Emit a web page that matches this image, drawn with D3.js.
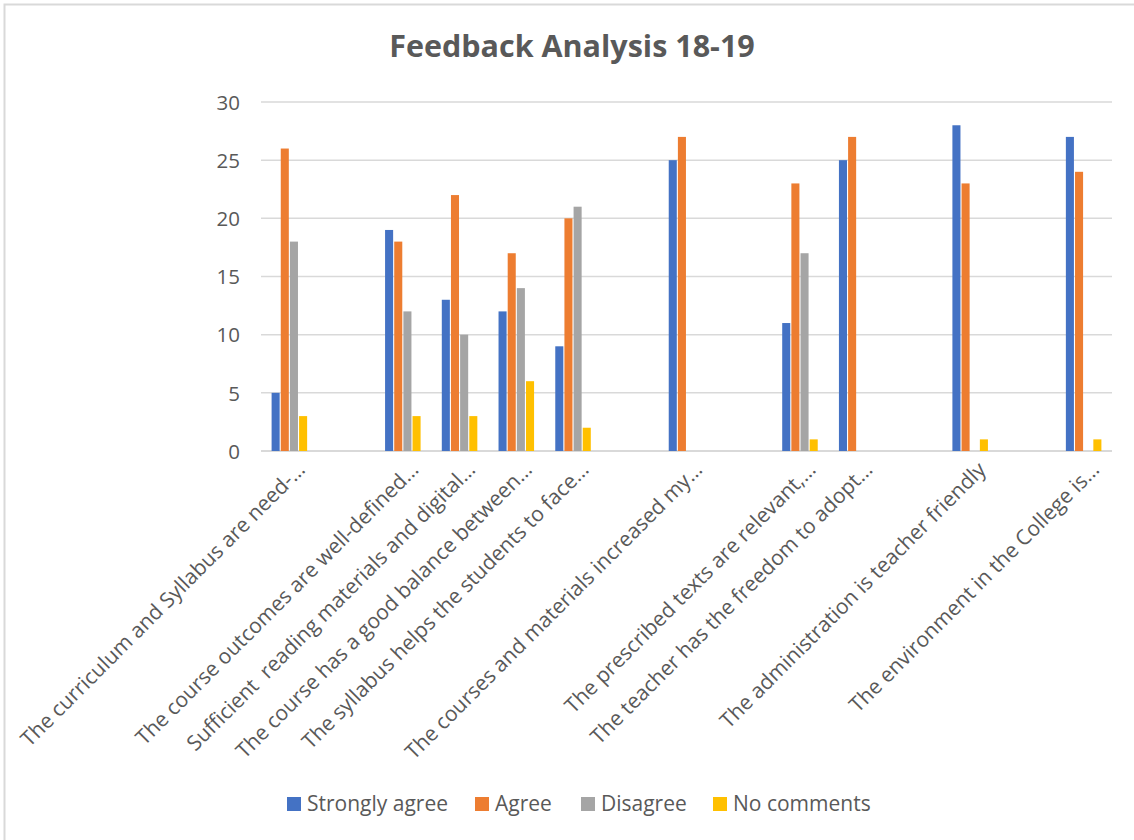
<!DOCTYPE html>
<meta charset="utf-8">
<style>
  body { margin: 0; background: #fff; }
  text { font-family: "Open Sans", sans-serif; fill: #595959; }
</style>
<svg id="chart"></svg>
<script src="https://d3js.org/d3.v7.min.js"></script>
<script>

// categories (empty strings are blank rows in the source sheet)
var categories = [
  "The curriculum and Syllabus are need-…",
  "",
  "The course outcomes are well-defined…",
  "Sufficient  reading materials and digital…",
  "The course has a good balance between…",
  "The syllabus helps the students to face…",
  "",
  "The courses and materials increased my…",
  "",
  "The prescribed texts are relevant,…",
  "The teacher has the freedom to adopt…",
  "",
  "The administration is teacher friendly",
  "",
  "The environment in the College is…"
]

var seriesNames = ["Strongly agree", "Agree", "Disagree", "No comments"]

var stronglyAgree = [5, null, 19, 13, 12, 9, null, 25, null, 11, 25, null, 28, null, 27]
var agree         = [26, null, 18, 22, 17, 20, null, 27, null, 23, 27, null, 23, null, 24]
var disagree      = [18, null, 12, 10, 14, 21, null, 0, null, 17, 0, null, 0, null, 0]
var noComments    = [3, null, 3, 3, 6, 2, null, 0, null, 1, 0, null, 1, null, 1]

var yTicks = [0, 5, 10, 15, 20, 25, 30]

var colors = ["#4472C4", "#ED7D31", "#A5A5A5", "#FFC000"]

var width = 1134
var height = 840
var margin = {top: 102, right: 22, bottom: 389, left: 261}

var svg = d3.select("#chart")
    .attr("width", width)
    .attr("height", height)

// chart frame (right/bottom edges fall outside the picture)
svg.append("rect")
    .attr("x", 4.5)
    .attr("y", 4.5)
    .attr("width", 1200)
    .attr("height", 900)
    .attr("fill", "none")
    .attr("stroke", "#d9d9d9")
    .attr("stroke-width", 2)

svg.append("text")
    .attr("x", 572)
    .attr("y", 57)
    .attr("text-anchor", "middle")
    .style("font-size", "30.5px")
    .style("font-weight", "bold")
    .text("Feedback Analysis 18-19")

var x0 = d3.scaleBand()
    .domain(d3.range(categories.length))
    .range([margin.left, width - margin.right])
    .paddingInner(0.335)
    .paddingOuter(0.1675)

var x1 = d3.scaleBand()
    .domain(d3.range(seriesNames.length))
    .range([0, x0.bandwidth()])
    .padding(0.12)

var y = d3.scaleLinear()
    .domain([0, 30])
    .range([height - margin.bottom, margin.top])

// gridlines
svg.append("g")
  .selectAll("line")
  .data(yTicks)
  .enter().append("line")
    .attr("x1", margin.left)
    .attr("x2", width - margin.right)
    .attr("y1", function(d) { return y(d) })
    .attr("y2", function(d) { return y(d) })
    .attr("stroke", "#d9d9d9")
    .attr("stroke-width", function(d) { return d === 0 ? 2 : 1.5 })

// y axis labels
var yAxis = svg.append("g")
    .attr("transform", "translate(" + (margin.left - 21) + ",0)")
    .call(d3.axisLeft(y).tickValues(yTicks).tickSize(0).tickPadding(0))
yAxis.select(".domain").remove()
yAxis.selectAll("text")
    .style("font-size", "20.5px")
    .style("fill", "#595959")
    .attr("dy", "0.35em")

// bars
var rows = categories.map(function(c, i) {
  return [stronglyAgree[i], agree[i], disagree[i], noComments[i]]
})

var groups = svg.append("g")
  .selectAll("g")
  .data(rows)
  .enter().append("g")
    .attr("transform", function(d, i) { return "translate(" + x0(i) + ",0)" })

groups.selectAll("rect")
  .data(function(d) { return d.map(function(v, k) { return {k: k, v: v} }).filter(function(o) { return o.v }) })
  .enter().append("rect")
    .attr("x", function(d) { return x1(d.k) })
    .attr("width", x1.bandwidth())
    .attr("y", function(d) { return y(d.v) })
    .attr("height", function(d) { return y(0) - y(d.v) })
    .attr("fill", function(d) { return colors[d.k] })

// category labels, rotated
svg.append("g")
  .selectAll("text")
  .data(categories)
  .enter().append("text")
    .attr("transform", function(d, i) {
      var cx = x0(i) + x0.bandwidth() / 2
      return "translate(" + (cx + 17) + "," + 471 + ") rotate(-45)"
    })
    .attr("text-anchor", "end")
    .style("font-size", "21px")
    .style("white-space", "pre")
    .text(function(d) { return d })

// legend
var legendX = [287, 475, 581, 713]
var legend = svg.append("g")
  .selectAll("g")
  .data(seriesNames)
  .enter().append("g")
    .attr("transform", function(d, i) { return "translate(" + legendX[i] + ",797)" })

legend.append("rect")
    .attr("width", 14)
    .attr("height", 14)
    .attr("fill", function(d, i) { return colors[i] })

legend.append("text")
    .attr("x", 20)
    .attr("y", 7)
    .attr("dy", "0.35em")
    .style("font-size", "21px")
    .text(function(d) { return d })

</script>
